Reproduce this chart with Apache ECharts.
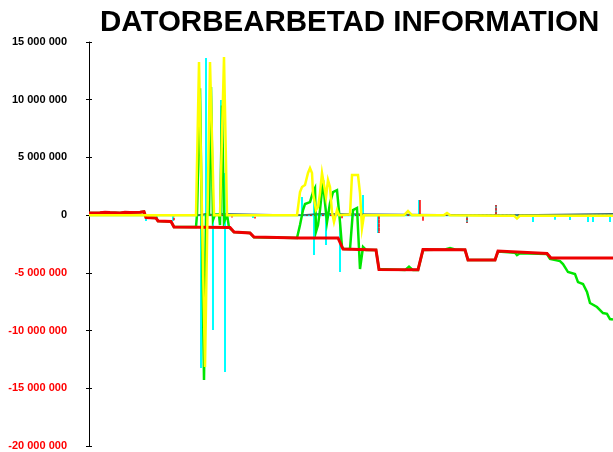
<!DOCTYPE html>
<html>
<head>
<meta charset="utf-8">
<script src="https://cdn.jsdelivr.net/npm/echarts@6/dist/echarts.min.js"></script>
<style>html,body{margin:0;padding:0;background:#fff}#c{width:613px;height:452px}</style>
</head>
<body>
<div id="c"></div>
<script>
// x = record index, values in millions
const yTicks = [-20, -15, -10, -5, 0, 5, 10, 15];

const redCumulative = [
  [0,0.18],[11,0.20],[16,0.25],[21,0.22],[31,0.18],[36,0.24],[41,0.23],[51,0.25],[55,0.30],
  [57,-0.20],[67,-0.25],[69,-0.50],[82,-0.55],[85,-1.03],[141,-1.07],[145,-1.46],[161,-1.55],
  [165,-1.90],[211,-1.98],[249,-1.98],[254,-2.94],[287,-3.02],[290,-4.70],[329,-4.74],
  [334,-2.98],[376,-3.00],[379,-3.89],[406,-3.89],[409,-3.11],[458,-3.33],[462,-3.72],[524,-3.72]
];

const greenSeries = [
  [0,0.18],[11,0.20],[16,0.25],[21,0.22],[31,0.18],[36,0.24],[41,0.23],[51,0.25],[55,0.30],
  [57,-0.20],[67,-0.25],[69,-0.50],[82,-0.55],[85,-1.03],[107,-1.03],[108,0.05],[111,11.0],
  [115,-14.29],[117,0.05],[120,0.05],[122,11.1],[124,-0.42],[126,0.05],[130,0.05],[131,-0.86],
  [133,9.5],[135,-0.6],[138,0.05],[140,-1.07],[141,-1.07],[145,-1.46],[161,-1.55],[165,-1.92],
  [208,-1.98],[211,-0.86],[214,0.44],[216,0.96],[221,1.13],[224,2.00],[226,2.35],[227,-1.44],
  [229,-0.86],[231,0.44],[234,3.04],[236,1.05],[238,-0.60],[241,1.05],[244,2.00],[248,2.17],
  [251,-0.60],[253,-2.76],[255,-2.94],[261,-2.94],[264,0.44],[268,0.62],[271,-4.67],[274,-2.76],
  [277,-3.02],[287,-3.02],[290,-4.67],[316,-4.76],[320,-4.47],[324,-4.76],[329,-4.76],[334,-3.02],
  [356,-2.98],[361,-2.85],[366,-2.98],[376,-3.02],[379,-3.89],[406,-3.89],[409,-3.15],[426,-3.25],
  [428,-3.46],[431,-3.30],[458,-3.37],[461,-3.80],[471,-3.98],[474,-4.24],[479,-4.93],[486,-5.10],
  [489,-5.80],[494,-5.97],[498,-6.66],[501,-7.61],[508,-7.96],[514,-8.48],[518,-8.55],[521,-9.00],
  [524,-9.05]
];

const yellowSeries = [
  [0,0.0],[107,0.0],[110,13.26],[116,-13.16],[121,13.26],[125,0.0],[131,0.0],[135,13.70],[138,0.0],
  [208,0.0],[211,2.00],[213,2.43],[216,2.61],[219,3.65],[221,4.08],[223,3.65],[224,1.91],[227,0.44],
  [229,0.70],[231,1.91],[233,3.65],[234,3.73],[237,1.57],[239,3.04],[241,2.43],[243,0.27],[245,-0.60],
  [248,0.44],[250,0.0],[261,0.05],[263,3.47],[269,3.47],[271,1.91],[273,-1.12],[275,0.0],[278,0.0],
  [315,0.0],[319,0.36],[323,0.0],[355,0.0],[358,0.18],[361,0.0],[409,-0.05],[425,-0.05],[428,-0.30],
  [431,-0.05],[524,-0.05]
];

const tealSeries = [
  [0,0],[109,0],[110,0.12],[117,0.12],[118,0],[127,0],[128,0.12],[133,0.12],[134,0],
  [210,0],[211,0.12],[231,0.12],[232,0],[410,0],[411,0.12],[524,0.12]
];

// [index, extreme value(s)]
const cyanSpikes = [
  [57,-0.51],[68,-0.42],[84,-0.51],[112,-13.25],[117,13.61],[124,-9.96],[132,9.97],[136,3.65,-13.59],
  [164,-0.25],[213,1.57],[225,1.57,-3.46],[237,-2.59],[251,-4.93],[274,1.74],[289,-1.55],[321,-0.15],
  [330,1.31],[378,-0.68],[407,0.87],[429,-0.25],[444,-0.6],[466,-0.4],[481,-0.42],[499,-0.6],
  [504,-0.6],[521,-0.6]
];

const redSpikes = [
  [85,-0.5],[143,-0.2],[166,-0.3],[253,-0.3],[290,-1.55],[331,1.31],[334,-0.5],[378,-0.68],[407,0.87]
];

const M = 1e6;
const scale = arr => arr.map(p => [p[0], p[1] * M]);
const spikes = arr => {
  const out = [[0, 0]];
  arr.forEach(s => {
    out.push([s[0], 0]);
    for (let i = 1; i < s.length; i++) out.push([s[0], s[i] * M]);
    out.push([s[0], 0]);
  });
  out.push([524, 0]);
  return out;
};

const fmt = v => {
  const s = Math.abs(v).toString().replace(/\B(?=(\d{3})+(?!\d))/g, ' ');
  return v < 0 ? '{n|-' + s + '}' : '{p|' + s + '}';
};
const FONT = '"Liberation Sans", Arial, sans-serif';

const chart = echarts.init(document.getElementById('c'), null, {renderer: 'canvas'});
const line = (name, data, color, width, z, type) => ({
  name, type: 'line', data, symbol: 'none', smooth: false, z,
  lineStyle: {color, width, type: type || 'solid', cap: 'butt', join: 'miter'},
  animation: false, silent: true
});

chart.setOption({
  animation: false,
  title: {
    text: 'DATORBEARBETAD INFORMATION', left: 95, top: 3,
    textStyle: {fontSize: 29.5, fontWeight: 'bold', color: '#000', fontFamily: FONT}
  },
  grid: {left: 89, right: 0, top: 42, bottom: 6, containLabel: false},
  xAxis: {type: 'value', min: 0, max: 524, show: false},
  yAxis: [{
    type: 'value', min: yTicks[0] * M, max: yTicks[yTicks.length - 1] * M, interval: 5 * M,
    axisLine: {show: true, onZero: false, lineStyle: {color: '#000', width: 1}},
    axisTick: {show: true, length: 3, inside: false, lineStyle: {color: '#000'}},
    splitLine: {show: false},
    axisLabel: {
      margin: 22, formatter: fmt,
      rich: {
        n: {color: '#ff0000', fontWeight: 'bold', fontSize: 11, fontFamily: FONT},
        p: {color: '#000', fontWeight: 'bold', fontSize: 11, fontFamily: FONT}
      }
    }
  }, {
    type: 'value', position: 'left', min: yTicks[0] * M, max: yTicks[yTicks.length - 1] * M, interval: 5 * M,
    axisLine: {show: false}, axisLabel: {show: false}, splitLine: {show: false},
    axisTick: {show: true, length: 3, inside: true, lineStyle: {color: '#000'}}
  }],
  series: [
    line('cyan', spikes(cyanSpikes), '#00ffff', 2, 1),
    line('redspikes', spikes(redSpikes), '#ff0000', 1.5, 2, [2, 2]),
    line('teal', scale(tealSeries), '#3a6e6e', 1.5, 3),
    line('green', scale(greenSeries), '#00e600', 2.5, 4),
    line('red', scale(redCumulative), '#ee0000', 3, 5),
    line('yellow', scale(yellowSeries), '#ffff00', 2.5, 6)
  ]
});
</script>
</body>
</html>
